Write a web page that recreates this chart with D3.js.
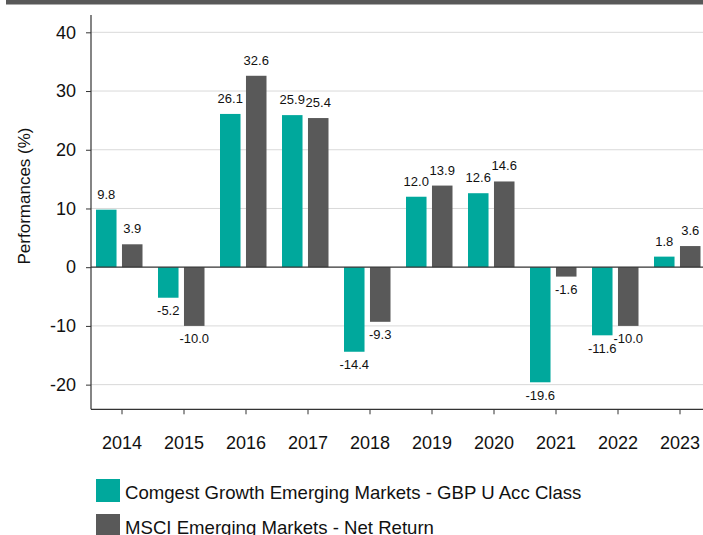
<!DOCTYPE html>
<html><head><meta charset="utf-8">
<script src="https://cdn.jsdelivr.net/npm/d3@7"></script>
<style>
html,body{margin:0;padding:0;background:#fff;overflow:hidden;}
svg{display:block;font-family:"Liberation Sans",Arial,Helvetica,sans-serif;}
</style></head>
<body>
<svg id="chart" width="703" height="535"></svg>
<script>
const years = ["2014","2015","2016","2017","2018","2019","2020","2021","2022","2023"];
const seriesNames = ["Comgest Growth Emerging Markets - GBP U Acc Class", "MSCI Emerging Markets - Net Return"];
const comgest = [9.8, -5.2, 26.1, 25.9, -14.4, 12.0, 12.6, -19.6, -11.6, 1.8];
const msci = [3.9, -10.0, 32.6, 25.4, -9.3, 13.9, 14.6, -1.6, -10.0, 3.6];
const yTicks = [-20, -10, 0, 10, 20, 30, 40];
const colors = ["#00a89c", "#595959"];

const hy = s => s.replace("\u2212", "-");
const fmtVal = v => hy(d3.format(".1f")(v));
const fmtTick = v => hy(d3.format("d")(v));

const svg = d3.select("#chart");
const W = 703;
const plotLeft = 91, plotTop = 15, plotBottom = 409.3;

// top banner
svg.append("rect").attr("x", 6).attr("y", 0).attr("width", W - 6).attr("height", 4.5).attr("fill", "#595959");

const x0 = d3.scaleBand().domain(years).range([plotLeft, plotLeft + 620]).padding(0);
const x1 = d3.scaleBand().domain(seriesNames).range([5, 51.5]).paddingInner(0.21).paddingOuter(0);
const y = d3.scaleLinear().domain([-24.2, 42.95]).range([plotBottom, plotTop]);

// gridlines
svg.append("g").selectAll("line").data(yTicks.filter(d => d !== 0)).join("line")
  .attr("x1", plotLeft).attr("x2", W).attr("y1", d => y(d)).attr("y2", d => y(d))
  .attr("stroke", "#d9d9d9").attr("stroke-width", 1);

// bars
const data = years.map((yr, i) => ({year: yr, vals: [comgest[i], msci[i]]}));
const groups = svg.append("g").selectAll("g").data(data).join("g")
  .attr("transform", d => `translate(${x0(d.year)},0)`);
groups.selectAll("rect").data(d => d.vals.map((v, j) => ({v, s: seriesNames[j], j}))).join("rect")
  .attr("x", d => x1(d.s)).attr("width", x1.bandwidth())
  .attr("y", d => y(Math.max(0, d.v))).attr("height", d => Math.abs(y(d.v) - y(0)))
  .attr("fill", d => colors[d.j]);
groups.selectAll("text").data(d => d.vals.map((v, j) => ({v, s: seriesNames[j], j}))).join("text")
  .attr("x", d => x1(d.s) + x1.bandwidth() / 2)
  .attr("y", d => d.v >= 0 ? y(d.v) - 11 : y(d.v) + 17.5)
  .attr("text-anchor", "middle").attr("font-size", 13).attr("fill", "#111")
  .text(d => fmtVal(d.v));

// zero line
svg.append("line").attr("x1", plotLeft).attr("x2", W).attr("y1", y(0)).attr("y2", y(0))
  .attr("stroke", "#333").attr("stroke-width", 1.2);

// y axis
const yAxis = svg.append("g").attr("transform", `translate(${plotLeft},0)`)
  .call(d3.axisLeft(y).tickValues(yTicks).tickFormat(fmtTick).tickSize(5).tickPadding(10).tickSizeOuter(0));
yAxis.select(".domain").remove();
yAxis.append("line").attr("x1", 0).attr("x2", 0).attr("y1", plotTop).attr("y2", plotBottom).attr("stroke", "#333").attr("stroke-width", 1.2);
yAxis.selectAll(".tick line").attr("stroke", "#333");
yAxis.selectAll(".tick text").attr("font-size", 18).attr("fill", "#111").attr("font-family", null);

// x axis
const xAxis = svg.append("g").attr("transform", `translate(0,${plotBottom})`)
  .call(d3.axisBottom(x0).tickSize(5).tickPadding(22).tickSizeOuter(0));
xAxis.select(".domain").remove();
xAxis.append("line").attr("x1", plotLeft).attr("x2", W).attr("y1", 0).attr("y2", 0).attr("stroke", "#333").attr("stroke-width", 1.2);
xAxis.selectAll(".tick line").attr("stroke", "#333");
xAxis.selectAll(".tick text").attr("font-size", 18).attr("fill", "#111").attr("font-family", null);

// y label
svg.append("text").attr("transform", "translate(30,196) rotate(-90)")
  .attr("text-anchor", "middle").attr("font-size", 17).attr("fill", "#111")
  .text("Performances (%)");

// legend
const legend = svg.append("g").selectAll("g").data(seriesNames).join("g")
  .attr("transform", (d, i) => `translate(96,${479 + i * 35})`);
legend.append("rect").attr("width", 24).attr("height", 23).attr("fill", (d, i) => colors[i]);
legend.append("text").attr("x", 29).attr("y", 20.3).attr("font-size", 18.6).attr("fill", "#111").text(d => d);
</script>
</body></html>
